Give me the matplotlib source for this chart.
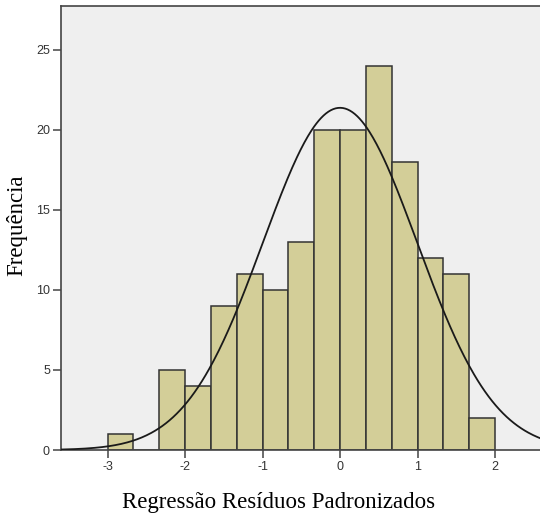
import numpy as np
import matplotlib
matplotlib.use("Agg")
import matplotlib.pyplot as plt

plt.rcParams["axes.unicode_minus"] = False

# histogram of standardized residuals (bin edges every 1/3 from -3 to 2)
bin_edges = np.linspace(-3.0, 2.0, 16)
counts = [1, 0, 5, 4, 9, 11, 10, 13, 20, 20, 24, 18, 12, 11, 2]

# normal curve parameters shown by SPSS
mean = 0.0
std_dev = 0.995
n_obs = 160

x_ticks = [-3, -2, -1, 0, 1, 2]
y_ticks = [0, 5, 10, 15, 20, 25]

fig = plt.figure(figsize=(5.4, 5.2), dpi=100)
ax = fig.add_axes([0.113, 0.1346, 0.887, 0.854])
ax.set_facecolor("#efefef")

widths = np.diff(bin_edges)
ax.bar(bin_edges[:-1], counts, width=widths, align="edge",
       color="#d3ce98", edgecolor="#333333", linewidth=1.1, zorder=2)

xs = np.linspace(-3.6, 2.6, 400)
bw = widths[0]
curve = n_obs * bw / (std_dev * np.sqrt(2 * np.pi)) * np.exp(-0.5 * ((xs - mean) / std_dev) ** 2)
ax.plot(xs, curve, color="#1a1a1a", lw=1.3, zorder=3)

ax.set_xlim(-3.6, 2.58)
ax.set_ylim(0, 27.75)
ax.set_xticks(x_ticks)
ax.set_yticks(y_ticks)
ax.tick_params(direction="out", length=6, width=1.1, color="#444444",
               labelsize=9, labelcolor="#333333", pad=2)
for lab in ax.get_xticklabels() + ax.get_yticklabels():
    lab.set_family("Liberation Sans")
for s in ["left", "bottom", "top"]:
    ax.spines[s].set_color("#444444")
    ax.spines[s].set_linewidth(1.2)
ax.spines["right"].set_visible(False)

fig.text(0.515, 0.033, "Regressão Resíduos Padronizados", ha="center", va="center",
         family="Liberation Serif", fontsize=16.5)
fig.text(0.012, 0.567, "Frequência", ha="left", va="center", rotation=90,
         family="Liberation Serif", fontsize=16.5)

fig.savefig("out.png", dpi=100)
